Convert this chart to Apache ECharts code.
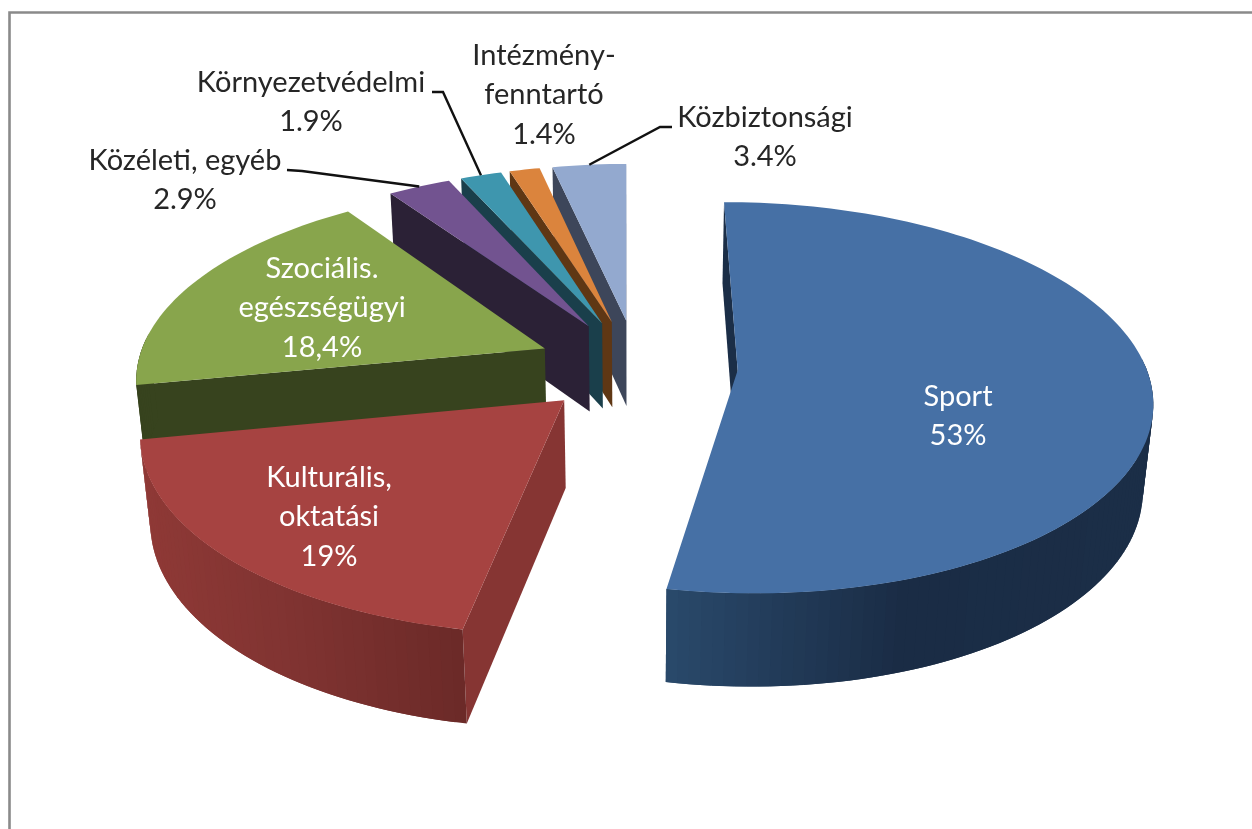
<!DOCTYPE html>
<html>
<head>
<meta charset="utf-8">
<script src="https://cdn.jsdelivr.net/npm/echarts@6/dist/echarts.min.js"></script>
<style>
    html, body { margin: 0; padding: 0; background: #fff; }
    #chart { width: 1252px; height: 829px; }
</style>
</head>
<body>
<div id="chart"></div>
<script>
// chart values, clockwise from 12 o'clock
const categories = ['Sport', 'Kulturális,\noktatási', 'Szociális.\negészségügyi', 'Közéleti, egyéb', 'Környezetvédelmi', 'Intézmény-\nfenntartó', 'Közbiztonsági'];
const values = [53, 19, 18.4, 2.9, 1.9, 1.4, 3.4];
const valueLabels = ['53%', '19%', '18,4%', '2.9%', '1.9%', '1.4%', '3.4%'];

// colours of each slice
const topColours = ['#4670A5', '#A64341', '#88A54C', '#725390', '#3E96AE', '#DB843D', '#93A9CF'];
const wallColours = ['#1B2E47', '#863533', '#37431E', '#2B2136', '#1A3F4B', '#5F3714', '#3D465A'];
const rimColours = [
    ['#2A4A6C', '#1A2C45', '#1B2E47'],
    ['#8F3936', '#7F3331', '#6C2A28'],
    ['#37431E', '#37431E', '#37431E'],
    ['#2B2136', '#2B2136', '#2B2136'],
    ['#1A3F4B', '#1A3F4B', '#1A3F4B'],
    ['#5F3714', '#5F3714', '#5F3714'],
    ['#3D465A', '#3D465A', '#3D465A']
];

// label layout: centre of the text block, and leader line elbow (if any)
const labelCentres = [[958, 416], [329, 517], [322, 308], [185, 180], [311, 102], [544, 95], [765, 137]];
const labelColours = ['#fff', '#fff', '#fff', '#262626', '#262626', '#262626', '#262626'];
const leaders = [null, null, null, [[287, 170], [302, 171]], [[432, 92], [443, 92]], null, [[672, 127], [660, 127]]];

// fake 3d camera, fitted by eye
const CX = 637, CY = 366;
const SCALE = 408;
const SIN_TILT = 0.467, COS_TILT = 0.888;
const PERSP_Y = 0.14, PERSP_Z = 0.085;
const EXPLODE = 0.247;
const HEIGHT = 0.239;
const START_ANGLE = -0.2;

const total = values.reduce((a, b) => a + b, 0);

function project(x, y, z) {
    const w = 1 + PERSP_Y * y;
    return [
        CX + SCALE * x / (w - PERSP_Z * z),
        CY - SCALE * y * SIN_TILT / w - SCALE * z * COS_TILT / (1 + 0.5 * PERSP_Y * y)
    ];
}

function sliceAngles(index) {
    let before = 0;
    for (let i = 0; i < index; i++) { before += values[i]; }
    const a0 = START_ANGLE + before / total * 360;
    const a1 = a0 + values[index] / total * 360;
    return [a0 * Math.PI / 180, a1 * Math.PI / 180];
}

function sliceOffset(index) {
    const [a0, a1] = sliceAngles(index);
    const mid = (a0 + a1) / 2;
    return [EXPLODE * Math.sin(mid), EXPLODE * Math.cos(mid)];
}

function rimPoint(index, angle, z) {
    const [ox, oy] = sliceOffset(index);
    return project(ox + Math.sin(angle), oy + Math.cos(angle), z);
}

// sign tells which way round a wall is seen from the camera
function wallTurn(p, q, r) {
    return (q[0] - p[0]) * (r[1] - q[1]) - (q[1] - p[1]) * (r[0] - q[0]);
}

function renderSlice(params, api) {
    const i = params.dataIndex;
    const [a0, a1] = sliceAngles(i);
    const [ox, oy] = sliceOffset(i);
    // back slices first, so the front ones cover them
    const z2 = i === 0 ? 10 : (7 - i) * 10 + 10;

    const steps = Math.max(6, Math.ceil((a1 - a0) * 40));
    const rimTop = [], rimBottom = [], cosines = [];
    for (let s = 0; s <= steps; s++) {
        const a = a0 + (a1 - a0) * s / steps;
        rimTop.push(rimPoint(i, a, 0));
        rimBottom.push(rimPoint(i, a, -HEIGHT));
        cosines.push(Math.cos(a));
    }
    const apexTop = project(ox, oy, 0);
    const apexBottom = project(ox, oy, -HEIGHT);

    const polygon = (points, fill, order) => ({
        type: 'polygon',
        z2: z2 + order,
        shape: { points: points },
        style: { fill: fill }
    });

    const children = [];

    // only the cut faces turned to the camera
    if (wallTurn(apexTop, rimTop[0], rimBottom[0]) < -1) {
        children.push(polygon([apexTop, rimTop[0], rimBottom[0], apexBottom], wallColours[i], 0));
    }
    if (wallTurn(apexTop, rimTop[steps], rimBottom[steps]) > 1) {
        children.push(polygon([apexTop, rimTop[steps], rimBottom[steps], apexBottom], wallColours[i], 1));
    }

    // outer wall in narrow strips, shade runs left to right like the excel one
    const xs = rimTop.map(p => p[0]);
    const xMin = Math.min(...xs), xMax = Math.max(...xs);
    for (let s = 0; s < steps; s++) {
        if (cosines[s] > 0.05 && cosines[s + 1] > 0.05) { continue; }
        const t = (rimTop[s][0] - xMin) / (xMax - xMin);
        const end = Math.min(s + 2, steps); // overlap the next strip so no seams show
        const quad = [rimTop[s], rimTop[end], rimBottom[end], rimBottom[s]];
        children.push(polygon(quad, echarts.color.lerp(t, rimColours[i]), 2));
    }

    children.push(polygon([apexTop].concat(rimTop), topColours[i], 3));

    if (leaders[i]) {
        const mid = (a0 + a1) / 2;
        children.push({
            type: 'polyline',
            z2: 200,
            shape: { points: leaders[i].concat([rimPoint(i, mid, 0)]) },
            style: { fill: null, stroke: '#111', lineWidth: 2.4 }
        });
    }

    children.push({
        type: 'text',
        z2: 300,
        style: {
            text: categories[i] + '\n' + valueLabels[i],
            x: labelCentres[i][0],
            y: labelCentres[i][1],
            align: 'center',
            verticalAlign: 'middle',
            fill: labelColours[i],
            font: '29px Lato',
            lineHeight: 39.5
        }
    });

    return { type: 'group', children: children };
}

const chart = echarts.init(document.getElementById('chart'), null, { renderer: 'canvas' });
chart.setOption({
    animation: false,
    backgroundColor: '#fff',
    graphic: [{
        type: 'polyline',
        silent: true,
        shape: { points: [[9.5, 829], [9.5, 12.5], [1252, 12.5]] },
        style: { fill: null, stroke: '#8A8A8A', lineWidth: 2.6 }
    }],
    series: [{
        type: 'custom',
        coordinateSystem: 'none',
        silent: true,
        renderItem: renderSlice,
        data: values
    }]
});
</script>
</body>
</html>
